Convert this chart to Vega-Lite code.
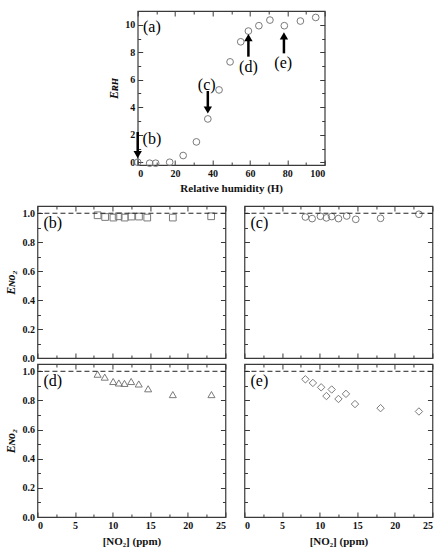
{
  "$schema": "https://vega.github.io/schema/vega-lite/v6.json",
  "padding": {"top": 9, "left": 4, "right": 4, "bottom": 2},
  "background": "white",
  "config": {
    "font": "Liberation Serif, Times New Roman, DejaVu Serif, serif",
    "view": {"stroke": "#3a3a3a", "strokeWidth": 1.2},
    "axis": {"grid": false, "domain": false, "tickColor": "#3a3a3a", "tickWidth": 1, "labelFont": "Liberation Serif, Times New Roman, DejaVu Serif, serif", "labelFontWeight": "bold", "labelFontSize": 10, "labelColor": "#111", "titleFont": "Liberation Serif, Times New Roman, DejaVu Serif, serif", "titleFontWeight": "bold", "titleFontSize": 11, "titleColor": "#111", "labelPadding": 8}
  },
  "datasets": {
    "rh": [
      {"h": 0, "e": 0}, {"h": 6.4, "e": -0.07}, {"h": 9.6, "e": -0.07}, {"h": 17.1, "e": 0.0},
      {"h": 24.3, "e": 0.49}, {"h": 31.4, "e": 1.48}, {"h": 37.5, "e": 3.15}, {"h": 43.5, "e": 5.26},
      {"h": 49.4, "e": 7.3}, {"h": 55.1, "e": 8.76}, {"h": 59.2, "e": 9.54}, {"h": 64.8, "e": 9.93},
      {"h": 70.7, "e": 10.34}, {"h": 78.4, "e": 9.93}, {"h": 87.0, "e": 10.27}, {"h": 95.2, "e": 10.53}
    ],
    "arrows": [
      {"h": 0, "y1": 2.2, "head": 0.55, "dir": "down"},
      {"h": 37.5, "y1": 5.18, "head": 3.8, "dir": "down"},
      {"h": 59.2, "y1": 7.68, "head": 9.07, "dir": "up"},
      {"h": 78.2, "y1": 7.92, "head": 9.19, "dir": "up"}
    ],
    "alab": [
      {"h": 7.6, "e": 9.85, "t": "(a)"},
      {"h": 7.6, "e": 1.7, "t": "(b)"},
      {"h": 36.9, "e": 5.62, "t": "(c)"},
      {"h": 59.2, "e": 6.95, "t": "(d)"},
      {"h": 77.8, "e": 7.24, "t": "(e)"}
    ],
    "no2": [
      {"p": "(b)", "x": 8.0, "y": 0.986}, {"p": "(b)", "x": 9.0, "y": 0.974}, {"p": "(b)", "x": 10.1, "y": 0.97}, {"p": "(b)", "x": 10.8, "y": 0.979}, {"p": "(b)", "x": 11.6, "y": 0.97},
      {"p": "(b)", "x": 12.5, "y": 0.977}, {"p": "(b)", "x": 13.5, "y": 0.977}, {"p": "(b)", "x": 14.6, "y": 0.97}, {"p": "(b)", "x": 18.0, "y": 0.97}, {"p": "(b)", "x": 23.1, "y": 0.979},
      {"p": "(c)", "x": 8.1, "y": 0.974}, {"p": "(c)", "x": 9.0, "y": 0.963}, {"p": "(c)", "x": 10.1, "y": 0.979}, {"p": "(c)", "x": 10.9, "y": 0.968}, {"p": "(c)", "x": 11.6, "y": 0.977},
      {"p": "(c)", "x": 12.5, "y": 0.963}, {"p": "(c)", "x": 13.6, "y": 0.981}, {"p": "(c)", "x": 14.8, "y": 0.958}, {"p": "(c)", "x": 18.1, "y": 0.965}, {"p": "(c)", "x": 23.2, "y": 0.993},
      {"p": "(d)", "x": 8.0, "y": 0.98}, {"p": "(d)", "x": 8.95, "y": 0.96}, {"p": "(d)", "x": 10.07, "y": 0.93}, {"p": "(d)", "x": 10.82, "y": 0.92}, {"p": "(d)", "x": 11.57, "y": 0.917},
      {"p": "(d)", "x": 12.46, "y": 0.93}, {"p": "(d)", "x": 13.47, "y": 0.913}, {"p": "(d)", "x": 14.72, "y": 0.88}, {"p": "(d)", "x": 18.0, "y": 0.84}, {"p": "(d)", "x": 23.14, "y": 0.84},
      {"p": "(e)", "x": 8.1, "y": 0.945}, {"p": "(e)", "x": 9.1, "y": 0.92}, {"p": "(e)", "x": 10.2, "y": 0.89}, {"p": "(e)", "x": 10.9, "y": 0.83}, {"p": "(e)", "x": 11.6, "y": 0.875},
      {"p": "(e)", "x": 12.5, "y": 0.81}, {"p": "(e)", "x": 13.5, "y": 0.845}, {"p": "(e)", "x": 14.7, "y": 0.775}, {"p": "(e)", "x": 18.1, "y": 0.747}, {"p": "(e)", "x": 23.2, "y": 0.724}
    ],
    "plab": [
      {"p": "(b)", "x": 0.8, "y": 0.93}, {"p": "(c)", "x": 0.8, "y": 0.93}, {"p": "(d)", "x": 0.8, "y": 0.93}, {"p": "(e)", "x": 0.8, "y": 0.93}
    ],
    "ref": [{"y": 1}]
  },
  "center": true,
  "spacing": 10,
  "vconcat": [
    {
      "width": 187, "height": 154,
      "resolve": {"axis": {"x": "independent", "y": "independent"}},
      "layer": [
        {
          "data": {"name": "rh"},
          "mark": {"type": "point", "shape": "circle", "size": 45, "stroke": "#7a7a7a", "strokeWidth": 1, "filled": false, "opacity": 1},
          "encoding": {
            "x": {"field": "h", "type": "quantitative", "scale": {"domain": [0, 100], "nice": false, "zero": false},
              "axis": {"values": [0, 10, 20, 30, 40, 50, 60, 70, 80, 90, 100], "tickSize": {"condition": {"test": "datum.value % 20 == 0", "value": -5}, "value": -3}, "labelExpr": "datum.value % 20 == 0 ? datum.label : ''", "format": "d", "title": "Relative humidity (H)", "titlePadding": 4}},
            "y": {"field": "e", "type": "quantitative", "scale": {"domain": [-0.2, 11], "nice": false, "zero": false},
              "axis": {"values": [0, 1, 2, 3, 4, 5, 6, 7, 8, 9, 10], "tickSize": {"condition": {"test": "datum.value % 2 == 0", "value": -5}, "value": -3}, "labelExpr": "datum.value % 2 == 0 ? datum.label : ''", "format": "d", "title": "Eʀʜ", "titleFontStyle": "italic", "titleFontSize": 12, "titlePadding": 4}}
          }
        },
        {
          "data": {"name": "arrows"},
          "mark": {"type": "rule", "strokeWidth": 2.5, "color": "#000"},
          "encoding": {
            "x": {"field": "h", "type": "quantitative", "axis": null},
            "y": {"field": "y1", "type": "quantitative", "axis": null},
            "y2": {"field": "head"}
          }
        },
        {
          "data": {"name": "arrows"},
          "mark": {"type": "point", "filled": true, "color": "#000", "size": 70, "opacity": 1},
          "encoding": {
            "x": {"field": "h", "type": "quantitative", "axis": null},
            "y": {"field": "head", "type": "quantitative", "axis": null},
            "shape": {"field": "dir", "type": "nominal", "scale": {"domain": ["down", "up"], "range": ["triangle-down", "triangle-up"]}, "legend": null}
          }
        },
        {
          "data": {"name": "alab"},
          "mark": {"type": "text", "fontSize": 16, "color": "#000"},
          "encoding": {
            "x": {"field": "h", "type": "quantitative", "axis": null},
            "y": {"field": "e", "type": "quantitative", "axis": null},
            "text": {"field": "t"}
          }
        },
        {
          "data": {"name": "rh"},
          "mark": {"type": "point", "opacity": 0},
          "encoding": {
            "x": {"field": "h", "type": "quantitative", "axis": {"orient": "top", "values": [0, 10, 20, 30, 40, 50, 60, 70, 80, 90, 100], "tickSize": {"condition": {"test": "datum.value % 20 == 0", "value": -5}, "value": -3}, "labels": false, "title": null}},
            "y": {"field": "e", "type": "quantitative", "axis": {"orient": "right", "values": [0, 1, 2, 3, 4, 5, 6, 7, 8, 9, 10], "tickSize": {"condition": {"test": "datum.value % 2 == 0", "value": -5}, "value": -3}, "labels": true, "labelOpacity": 0, "labelPadding": 3, "format": "d", "title": null}}
          }
        }
      ]
    },
    {
      "columns": 2,
      "bounds": "flush",
      "spacing": {"row": 6, "column": 19},
      "concat": [
        {
          "width": 188, "height": 152,
          "resolve": {"axis": {"x": "independent", "y": "independent"}},
          "layer": [
            {"data": {"name": "no2"}, "transform": [{"filter": "datum.p == '(b)'"}],
              "mark": {"type": "point", "shape": "square", "size": 45, "stroke": "#7a7a7a", "strokeWidth": 1, "filled": false, "opacity": 1},
              "encoding": {
                "x": {"field": "x", "type": "quantitative", "scale": {"domain": [0, 25], "nice": false, "zero": false},
                  "axis": {"values": [0, 2.5, 5, 7.5, 10, 12.5, 15, 17.5, 20, 22.5, 25], "tickSize": {"condition": {"test": "datum.value % 5 == 0", "value": -5}, "value": -3}, "labels": false, "title": null}},
                "y": {"field": "y", "type": "quantitative", "scale": {"domain": [0, 1.05], "nice": false, "zero": false},
                  "axis": {"values": [0, 0.1, 0.2, 0.3, 0.4, 0.5, 0.6, 0.7, 0.8, 0.9, 1.0], "tickSize": {"condition": {"test": "round(datum.value*10) % 2 == 0", "value": -5}, "value": -3}, "labelExpr": "round(datum.value*10) % 2 == 0 ? datum.label : ''", "format": ".1f", "title": "Eɴᴏ₂", "titleFontStyle": "italic", "titleFontSize": 12, "titlePadding": 4}}
              }},
            {"data": {"name": "ref"}, "mark": {"type": "rule", "strokeDash": [5, 3], "color": "#222", "strokeWidth": 1}, "encoding": {"y": {"field": "y", "type": "quantitative", "axis": null}}},
            {"data": {"name": "plab"}, "transform": [{"filter": "datum.p == '(b)'"}],
              "mark": {"type": "text", "fontSize": 16, "align": "left", "color": "#000"},
              "encoding": {"x": {"field": "x", "type": "quantitative", "axis": null}, "y": {"field": "y", "type": "quantitative", "axis": null}, "text": {"field": "p"}}},
            {"data": {"name": "no2"}, "transform": [{"filter": "datum.p == '(b)'"}],
              "mark": {"type": "point", "opacity": 0},
              "encoding": {
                "x": {"field": "x", "type": "quantitative", "axis": {"orient": "top", "values": [0, 2.5, 5, 7.5, 10, 12.5, 15, 17.5, 20, 22.5, 25], "tickSize": {"condition": {"test": "datum.value % 5 == 0", "value": -5}, "value": -3}, "labels": false, "title": null}},
                "y": {"field": "y", "type": "quantitative", "axis": {"orient": "right", "values": [0, 0.1, 0.2, 0.3, 0.4, 0.5, 0.6, 0.7, 0.8, 0.9, 1.0], "tickSize": {"condition": {"test": "round(datum.value*10) % 2 == 0", "value": -5}, "value": -3}, "labels": false, "title": null}}
              }}
          ]
        },
        {
          "width": 188, "height": 152,
          "resolve": {"axis": {"x": "independent", "y": "independent"}},
          "layer": [
            {"data": {"name": "no2"}, "transform": [{"filter": "datum.p == '(c)'"}],
              "mark": {"type": "point", "shape": "circle", "size": 45, "stroke": "#7a7a7a", "strokeWidth": 1, "filled": false, "opacity": 1},
              "encoding": {
                "x": {"field": "x", "type": "quantitative", "scale": {"domain": [0, 25], "nice": false, "zero": false},
                  "axis": {"values": [0, 2.5, 5, 7.5, 10, 12.5, 15, 17.5, 20, 22.5, 25], "tickSize": {"condition": {"test": "datum.value % 5 == 0", "value": -5}, "value": -3}, "labels": false, "title": null}},
                "y": {"field": "y", "type": "quantitative", "scale": {"domain": [0, 1.05], "nice": false, "zero": false},
                  "axis": {"values": [0, 0.1, 0.2, 0.3, 0.4, 0.5, 0.6, 0.7, 0.8, 0.9, 1.0], "tickSize": {"condition": {"test": "round(datum.value*10) % 2 == 0", "value": -5}, "value": -3}, "labels": false, "title": null}}
              }},
            {"data": {"name": "ref"}, "mark": {"type": "rule", "strokeDash": [5, 3], "color": "#222", "strokeWidth": 1}, "encoding": {"y": {"field": "y", "type": "quantitative", "axis": null}}},
            {"data": {"name": "plab"}, "transform": [{"filter": "datum.p == '(c)'"}],
              "mark": {"type": "text", "fontSize": 16, "align": "left", "color": "#000"},
              "encoding": {"x": {"field": "x", "type": "quantitative", "axis": null}, "y": {"field": "y", "type": "quantitative", "axis": null}, "text": {"field": "p"}}},
            {"data": {"name": "no2"}, "transform": [{"filter": "datum.p == '(c)'"}],
              "mark": {"type": "point", "opacity": 0},
              "encoding": {
                "x": {"field": "x", "type": "quantitative", "axis": {"orient": "top", "values": [0, 2.5, 5, 7.5, 10, 12.5, 15, 17.5, 20, 22.5, 25], "tickSize": {"condition": {"test": "datum.value % 5 == 0", "value": -5}, "value": -3}, "labels": false, "title": null}},
                "y": {"field": "y", "type": "quantitative", "axis": {"orient": "right", "values": [0, 0.1, 0.2, 0.3, 0.4, 0.5, 0.6, 0.7, 0.8, 0.9, 1.0], "tickSize": {"condition": {"test": "round(datum.value*10) % 2 == 0", "value": -5}, "value": -3}, "labels": false, "title": null}}
              }}
          ]
        },
        {
          "width": 188, "height": 153,
          "resolve": {"axis": {"x": "independent", "y": "independent"}},
          "layer": [
            {"data": {"name": "no2"}, "transform": [{"filter": "datum.p == '(d)'"}],
              "mark": {"type": "point", "shape": "triangle-up", "size": 50, "stroke": "#7a7a7a", "strokeWidth": 1, "filled": false, "opacity": 1},
              "encoding": {
                "x": {"field": "x", "type": "quantitative", "scale": {"domain": [0, 25], "nice": false, "zero": false},
                  "axis": {"values": [0, 2.5, 5, 7.5, 10, 12.5, 15, 17.5, 20, 22.5, 25], "tickSize": {"condition": {"test": "datum.value % 5 == 0", "value": -5}, "value": -3}, "labelExpr": "datum.value % 5 == 0 ? datum.label : ''", "format": "d", "title": "[NO₂] (ppm)", "titlePadding": 5}},
                "y": {"field": "y", "type": "quantitative", "scale": {"domain": [0, 1.05], "nice": false, "zero": false},
                  "axis": {"values": [0, 0.1, 0.2, 0.3, 0.4, 0.5, 0.6, 0.7, 0.8, 0.9, 1.0], "tickSize": {"condition": {"test": "round(datum.value*10) % 2 == 0", "value": -5}, "value": -3}, "labelExpr": "round(datum.value*10) % 2 == 0 ? datum.label : ''", "format": ".1f", "title": "Eɴᴏ₂", "titleFontStyle": "italic", "titleFontSize": 12, "titlePadding": 4}}
              }},
            {"data": {"name": "ref"}, "mark": {"type": "rule", "strokeDash": [5, 3], "color": "#222", "strokeWidth": 1}, "encoding": {"y": {"field": "y", "type": "quantitative", "axis": null}}},
            {"data": {"name": "plab"}, "transform": [{"filter": "datum.p == '(d)'"}],
              "mark": {"type": "text", "fontSize": 16, "align": "left", "color": "#000"},
              "encoding": {"x": {"field": "x", "type": "quantitative", "axis": null}, "y": {"field": "y", "type": "quantitative", "axis": null}, "text": {"field": "p"}}},
            {"data": {"name": "no2"}, "transform": [{"filter": "datum.p == '(d)'"}],
              "mark": {"type": "point", "opacity": 0},
              "encoding": {
                "x": {"field": "x", "type": "quantitative", "axis": {"orient": "top", "values": [0, 2.5, 5, 7.5, 10, 12.5, 15, 17.5, 20, 22.5, 25], "tickSize": {"condition": {"test": "datum.value % 5 == 0", "value": -5}, "value": -3}, "labels": false, "title": null}},
                "y": {"field": "y", "type": "quantitative", "axis": {"orient": "right", "values": [0, 0.1, 0.2, 0.3, 0.4, 0.5, 0.6, 0.7, 0.8, 0.9, 1.0], "tickSize": {"condition": {"test": "round(datum.value*10) % 2 == 0", "value": -5}, "value": -3}, "labels": false, "title": null}}
              }}
          ]
        },
        {
          "width": 188, "height": 153,
          "resolve": {"axis": {"x": "independent", "y": "independent"}},
          "layer": [
            {"data": {"name": "no2"}, "transform": [{"filter": "datum.p == '(e)'"}],
              "mark": {"type": "point", "shape": "diamond", "size": 55, "stroke": "#7a7a7a", "strokeWidth": 1, "filled": false, "opacity": 1},
              "encoding": {
                "x": {"field": "x", "type": "quantitative", "scale": {"domain": [0, 25], "nice": false, "zero": false},
                  "axis": {"values": [0, 2.5, 5, 7.5, 10, 12.5, 15, 17.5, 20, 22.5, 25], "tickSize": {"condition": {"test": "datum.value % 5 == 0", "value": -5}, "value": -3}, "labelExpr": "datum.value % 5 == 0 ? datum.label : ''", "format": "d", "title": "[NO₂] (ppm)", "titlePadding": 5}},
                "y": {"field": "y", "type": "quantitative", "scale": {"domain": [0, 1.05], "nice": false, "zero": false},
                  "axis": {"values": [0, 0.1, 0.2, 0.3, 0.4, 0.5, 0.6, 0.7, 0.8, 0.9, 1.0], "tickSize": {"condition": {"test": "round(datum.value*10) % 2 == 0", "value": -5}, "value": -3}, "labels": false, "title": null}}
              }},
            {"data": {"name": "ref"}, "mark": {"type": "rule", "strokeDash": [5, 3], "color": "#222", "strokeWidth": 1}, "encoding": {"y": {"field": "y", "type": "quantitative", "axis": null}}},
            {"data": {"name": "plab"}, "transform": [{"filter": "datum.p == '(e)'"}],
              "mark": {"type": "text", "fontSize": 16, "align": "left", "color": "#000"},
              "encoding": {"x": {"field": "x", "type": "quantitative", "axis": null}, "y": {"field": "y", "type": "quantitative", "axis": null}, "text": {"field": "p"}}},
            {"data": {"name": "no2"}, "transform": [{"filter": "datum.p == '(e)'"}],
              "mark": {"type": "point", "opacity": 0},
              "encoding": {
                "x": {"field": "x", "type": "quantitative", "axis": {"orient": "top", "values": [0, 2.5, 5, 7.5, 10, 12.5, 15, 17.5, 20, 22.5, 25], "tickSize": {"condition": {"test": "datum.value % 5 == 0", "value": -5}, "value": -3}, "labels": false, "title": null}},
                "y": {"field": "y", "type": "quantitative", "axis": {"orient": "right", "values": [0, 0.1, 0.2, 0.3, 0.4, 0.5, 0.6, 0.7, 0.8, 0.9, 1.0], "tickSize": {"condition": {"test": "round(datum.value*10) % 2 == 0", "value": -5}, "value": -3}, "labels": false, "title": null}}
              }}
          ]
        }
      ]
    }
  ]
}
